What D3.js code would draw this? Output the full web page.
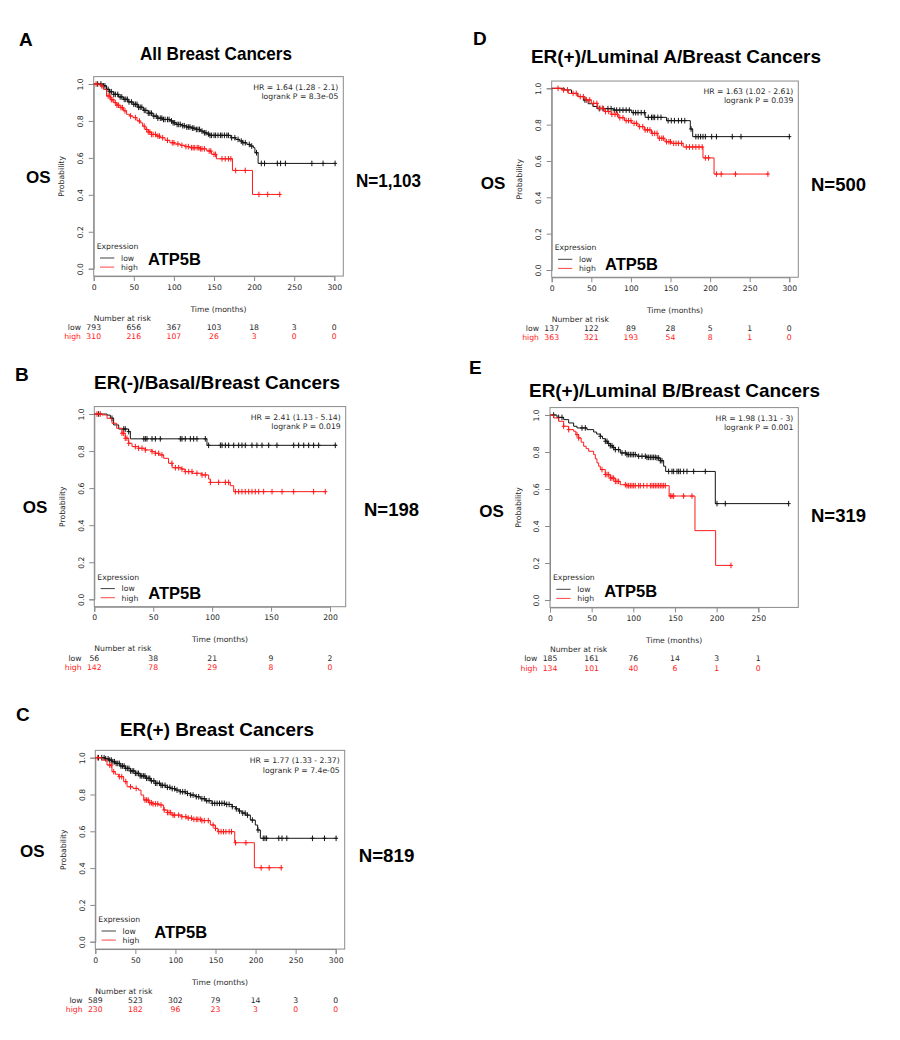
<!DOCTYPE html>
<html>
<head>
<meta charset="utf-8">
<script src="https://cdn.jsdelivr.net/npm/d3@7"></script>
<style>
  body { margin: 0; background: #fff; }
  svg text { font-family: "DejaVu Sans", sans-serif; }
  .big { font-family: "Liberation Sans", Arial, sans-serif; font-weight: bold; fill: #000; }
</style>
</head>
<body>
<svg id="fig" width="900" height="1040"></svg>
<script>
// ---- panel A: all breast cancers ----
const aTicks = [0, 50, 100, 150, 200, 250, 300];
const aRiskLow = [793, 656, 367, 103, 18, 3, 0];
const aRiskHigh = [310, 216, 107, 26, 3, 0, 0];
const aLowSteps = [[0,1],[12,0.99],[16,0.971],[20,0.958],[25,0.944],[31,0.93],[37,0.917],[43,0.903],[49,0.89],[55,0.874],[62,0.857],[68,0.842],[74,0.826],[80,0.815],[87,0.808],[95,0.80],[99,0.79],[103,0.781],[110,0.774],[116,0.767],[122,0.761],[128,0.754],[133,0.745],[137,0.736],[141,0.729],[145,0.722],[171,0.709],[177,0.70],[182,0.691],[186,0.682],[191,0.673],[195,0.664],[199,0.655],[201,0.628],[205,0.570]];
const aLowCensor = [5,9,12,14,16,18,20,22,25,27,30,33,35,38,40,42,44,47,50,52,54,56,58,60,63,65,68,70,72,75,78,80,83,85,87,89,92,94,97,99,101,104,106,108,111,113,116,118,120,123,125,128,130,132,135,138,140,143,145,147,150,152,155,158,160,163,166,168,172,176,180,184,186,189,194,197,203,209,213,229,233,239,272,286,301];
const aLowEnd = 302;
const aHighSteps = [[0,1],[8,0.99],[12,0.971],[16,0.935],[21,0.915],[25,0.899],[29,0.885],[33,0.872],[37,0.855],[41,0.836],[45,0.827],[49,0.818],[54,0.80],[58,0.79],[61,0.772],[64,0.754],[68,0.74],[72,0.727],[78,0.718],[83,0.709],[89,0.695],[95,0.682],[101,0.675],[108,0.668],[114,0.661],[120,0.655],[133,0.649],[141,0.637],[147,0.619],[153,0.595],[173,0.532],[198,0.402]];
const aHighCensor = [3,10,18,20,22,24,27,29,31,34,36,39,46,52,57,63,66,68,70,72,74,77,80,82,86,92,98,100,105,110,115,118,122,124,126,129,131,133,135,138,144,146,150,152,160,164,168,171,177,189,206,217,232];
const aHighEnd = 233;
const aStats = ['HR = 1.64 (1.28 - 2.1)', 'logrank P = 8.3e-05'];

// ---- panel B: ER(-)/basal ----
const bTicks = [0, 50, 100, 150, 200];
const bRiskLow = [56, 38, 21, 9, 2];
const bRiskHigh = [142, 78, 29, 8, 0];
const bLowSteps = [[0,1],[10.8,0.994],[13.6,0.977],[16.4,0.941],[20.7,0.919],[29,0.905],[30.6,0.866],[95.6,0.831]];
const bLowCensor = [3.7,15,25,26.3,29.2,42,43.3,44.7,49,51.8,56,73,74.4,77.2,81.5,84.3,87.1,94.2,97,107,108.4,111.2,114,118.3,122.5,125.3,128.1,133.8,138,142.3,148,155,169.2,173.4,177.7,181.9,186.1,190.4,204.5];
const bLowEnd = 206;
const bHighSteps = [[0,1],[6.5,0.995],[10.8,0.977],[15,0.95],[19,0.923],[23.5,0.896],[26.3,0.869],[29.2,0.842],[32,0.824],[37.6,0.815],[43.3,0.806],[49,0.797],[51.8,0.788],[54.7,0.779],[58.9,0.761],[63,0.734],[66,0.71],[74,0.703],[77,0.689],[83,0.68],[91.4,0.671],[97,0.649],[98.5,0.631],[115.4,0.613],[118.3,0.581]];
const bHighCensor = [2.3,5.1,23.5,24.9,26.3,27.7,29.2,34.8,37.6,40.5,43.3,49,51.8,54.6,57.4,65.9,68.8,71.6,74.4,77.2,80.1,82.9,87.1,91.4,94.2,98.5,105.5,111.2,114,119.7,122.5,125.3,128.1,131,133.8,136.6,139.5,143.7,150.8,159.3,169.2,186.1,196];
const bHighEnd = 197;
const bStats = ['HR = 2.41 (1.13 - 5.14)', 'logrank P = 0.019'];

// ---- panel C: ER(+) ----
const cTicks = [0, 50, 100, 150, 200, 250, 300];
const cRiskLow = [589, 523, 302, 79, 14, 3, 0];
const cRiskHigh = [230, 182, 96, 23, 3, 0, 0];
const cLowSteps = [[0,1],[12,0.994],[16.7,0.987],[21,0.978],[25,0.969],[31,0.955],[37.5,0.942],[44,0.928],[50,0.915],[56,0.901],[62.4,0.888],[69,0.874],[75,0.861],[81,0.85],[87.4,0.839],[94,0.832],[100,0.824],[106,0.815],[112.4,0.806],[119,0.797],[125,0.788],[131,0.777],[137.3,0.766],[145.6,0.752],[162,0.746],[170.6,0.734],[175,0.722],[179,0.71],[183,0.699],[187.2,0.688],[193.5,0.661],[199.7,0.634],[202.6,0.607],[206,0.562]];
const cLowCensor = [4,8,11,13,16,18,20,22,24,26,28,30,32,34,36,38,40,42,44,46,48,50,52,54,56,58,60,62,64,66,68,70,73,75,77,80,82,84,87,90,93,96,99,102,106,109,112,115,119,122,126,129,133,136,139,142,146,149,152,155,158,161,164,167,171,176,180,184,187,190,196,203,209.6,211.7,213.8,229,233,239,271,286,300.5];
const cLowEnd = 301.6;
const cHighSteps = [[0,1],[8.4,0.987],[14.6,0.96],[20.8,0.924],[25,0.91],[29.2,0.897],[35.4,0.87],[39.6,0.842],[47,0.833],[54,0.824],[57,0.797],[60.4,0.77],[66.6,0.755],[72,0.749],[79,0.743],[85.3,0.716],[90,0.702],[95.7,0.688],[108,0.679],[114,0.672],[120.7,0.665],[133,0.658],[143.6,0.634],[149.8,0.616],[153,0.598],[174,0.538],[198.5,0.402]];
const cHighCensor = [3,18,20,23,30,33,38,44,51,62,64,66,68,70,72,75,78,82,86,90,92,94,97,99,104,108,113,116,120,123,126,128,131,133,136,141,147,150,154,157,160,163,167,170,175,188,207,217,232];
const cHighEnd = 232;
const cStats = ['HR = 1.77 (1.33 - 2.37)', 'logrank P = 7.4e-05'];

// ---- panel D: ER(+)/luminal A ----
const dTicks = [0, 50, 100, 150, 200, 250, 300];
const dRiskLow = [137, 122, 89, 28, 5, 1, 0];
const dRiskHigh = [363, 321, 193, 54, 8, 1, 0];
const dLowSteps = [[0,1],[16,0.991],[25,0.972],[33,0.955],[40,0.935],[46,0.915],[52,0.9],[57,0.888],[78,0.88],[101,0.866],[118,0.84],[145,0.822],[175,0.776],[178,0.734]];
const dLowCensor = [42,60,65,71,75,79,82,86,90,94,98,103,106,109,113,117,122,126,128,130,134,138,147,151,155,160,164,168,176,182,185,188,191,194,202,208,228,239,300];
const dLowEnd = 301;
const dHighSteps = [[0,1],[12,0.991],[21,0.972],[33,0.954],[42,0.936],[50,0.917],[58,0.89],[67,0.872],[75,0.857],[84,0.838],[92,0.822],[101,0.807],[109,0.789],[117,0.771],[126,0.752],[134,0.725],[143,0.706],[151,0.697],[166,0.677],[191,0.617],[205,0.528]];
const dHighCensor = [8,15,20,27,31,36,40,44,48,53,57,61,64,68,72,76,80,83,86,90,94,97,100,104,107,111,115,118,121,124,127,130,133,136,139,141,145,148,150,154,157,160,164,170,174,178,182,186,190,194,198,208,214,232,273];
const dHighEnd = 273.5;
const dStats = ['HR = 1.63 (1.02 - 2.61)', 'logrank P = 0.039'];

// ---- panel E: ER(+)/luminal B ----
const eTicks = [0, 50, 100, 150, 200, 250];
const eRiskLow = [185, 161, 76, 14, 3, 1];
const eRiskHigh = [134, 101, 40, 6, 1, 0];
const eLowSteps = [[0,1],[8.4,0.987],[16.4,0.975],[22.4,0.957],[28.4,0.939],[32.4,0.93],[44.4,0.921],[52.4,0.908],[56,0.897],[60.4,0.885],[63,0.872],[66.4,0.858],[69,0.846],[72.4,0.834],[75,0.824],[78.4,0.813],[84.4,0.795],[92.4,0.786],[104.4,0.777],[116.4,0.771],[128.4,0.768],[132.4,0.753],[136.4,0.723],[138.8,0.695],[198.4,0.521]];
const eLowCensor = [4.4,10.4,14.4,38.4,42.4,60.4,66.4,68.4,70.4,72.4,74.4,76.4,78.4,82.4,86.4,90.4,92.4,94.4,96.4,98.4,100.4,102.4,106.4,110.4,114.4,116.4,118.4,120.4,122.4,124.4,126.4,128.4,130.4,132.4,134.4,142.4,146.4,148.4,152.4,154.4,156.4,160.4,164.4,172.4,186.4,200.4,210.4,286.4];
const eLowEnd = 287;
const eHighSteps = [[0,1],[4.4,0.984],[10.4,0.966],[16.4,0.939],[22.4,0.921],[28.4,0.912],[31,0.894],[34.4,0.876],[37.4,0.853],[40.4,0.831],[43.4,0.818],[46.4,0.804],[52.4,0.786],[54.4,0.763],[56.4,0.741],[58.4,0.723],[60.4,0.705],[66.4,0.678],[72.4,0.659],[78.4,0.641],[84.4,0.623],[92.4,0.618],[143,0.562],[174,0.375],[198.8,0.187]];
const eHighCensor = [16.4,22.4,32.4,34.4,62.4,66.4,68.4,70.4,72.4,74.4,76.4,78.4,80.4,82.4,90.4,92.4,94.4,96.4,98.4,100.4,102.4,106.4,108.4,112.4,116.4,120.4,122.4,124.4,126.4,128.4,130.4,132.4,134.4,136.4,138.4,144.4,146.4,148.4,160.4,170.4,217.2];
const eHighEnd = 217.5;
const eStats = ['HR = 1.98 (1.31 - 3)', 'logrank P = 0.001'];

const gene = 'ATP5B';
const lowColor = '#141414', highColor = '#ff1a1a', boxColor = '#8a8a8a', textColor = '#2a2a2a';

// layout of each panel on the page (pixels)
const panels = [
  { letter: 'A', title: 'All Breast Cancers', n: 'N=1,103', ticks: aTicks, riskLow: aRiskLow, riskHigh: aRiskHigh,
    low: { steps: aLowSteps, censor: aLowCensor, end: aLowEnd }, high: { steps: aHighSteps, censor: aHighCensor, end: aHighEnd }, stats: aStats,
    lx: 19, ly: 46, tx: 216, ty: 60, tw: 152, ox: 93.7, tickMaxX: 334.3, boxRight: 343.3, y1: 84, y0: 268.7,
    osX: 26, osY: 182.7, nX: 356, nY: 186.7, nW: 65, gx: 148, gy: 265 },
  { letter: 'B', title: 'ER(-)/Basal/Breast Cancers', n: 'N=198', ticks: bTicks, riskLow: bRiskLow, riskHigh: bRiskHigh,
    low: { steps: bLowSteps, censor: bLowCensor, end: bLowEnd }, high: { steps: bHighSteps, censor: bHighCensor, end: bHighEnd }, stats: bStats,
    lx: 15, ly: 380.5, tx: 217, ty: 389, tw: 246, ox: 94.3, tickMaxX: 330, boxRight: 345.7, y1: 414, y0: 599.3,
    osX: 22.7, osY: 513, nX: 364, nY: 515.7, nW: 55, gx: 148.3, gy: 599.3 },
  { letter: 'C', title: 'ER(+) Breast Cancers', n: 'N=819', ticks: cTicks, riskLow: cRiskLow, riskHigh: cRiskHigh,
    low: { steps: cLowSteps, censor: cLowCensor, end: cLowEnd }, high: { steps: cHighSteps, censor: cHighCensor, end: cHighEnd }, stats: cStats,
    lx: 16, ly: 721, tx: 217, ty: 736, tw: 194, ox: 95.3, tickMaxX: 335.7, boxRight: 344.7, y1: 757.7, y0: 941.7,
    osX: 20, osY: 856.7, nX: 358.7, nY: 861.7, nW: 55.6, gx: 154.3, gy: 938.3 },
  { letter: 'D', title: 'ER(+)/Luminal A/Breast Cancers', n: 'N=500', ticks: dTicks, riskLow: dRiskLow, riskHigh: dRiskHigh,
    low: { steps: dLowSteps, censor: dLowCensor, end: dLowEnd }, high: { steps: dHighSteps, censor: dHighCensor, end: dHighEnd }, stats: dStats,
    lx: 473, ly: 45, tx: 676, ty: 63.3, tw: 290, ox: 551.7, tickMaxX: 789.3, boxRight: 798.3, y1: 88.3, y0: 270,
    osX: 480.7, osY: 189, nX: 811, nY: 190.7, nW: 55, gx: 605, gy: 270 },
  { letter: 'E', title: 'ER(+)/Luminal B/Breast Cancers', n: 'N=319', ticks: eTicks, riskLow: eRiskLow, riskHigh: eRiskHigh,
    low: { steps: eLowSteps, censor: eLowCensor, end: eLowEnd }, high: { steps: eHighSteps, censor: eHighCensor, end: eHighEnd }, stats: eStats,
    lx: 469, ly: 374, tx: 674.5, ty: 397, tw: 291, ox: 550, tickMaxX: 758.3, boxRight: 798.3, y1: 415, y0: 600,
    osX: 479.3, osY: 516.7, nX: 811, nY: 522.3, nW: 55, gx: 604.3, gy: 597.3 }
];

const svg = d3.select('#fig');

// value of the step curve at time t
function survAt(steps, t) {
  let s = 1;
  for (const [ti, si] of steps) {
    if (ti <= t) s = si; else break;
  }
  return s;
}

function drawPanel(p) {
  const g = svg.append('g');
  const tickMax = p.ticks[p.ticks.length - 1];
  const x = d3.scaleLinear().domain([0, tickMax]).range([p.ox, p.tickMaxX]);
  const y = d3.scaleLinear().domain([0, 1]).range([p.y0, p.y1]);
  const boxTop = y(1.04), boxBottom = y(-0.04);

  // big labels
  g.append('text').attr('class', 'big').attr('x', p.lx).attr('y', p.ly).style('font-size', '19px').text(p.letter);
  g.append('text').attr('class', 'big').attr('x', p.tx).attr('y', p.ty).attr('text-anchor', 'middle')
    .attr('textLength', p.tw).attr('lengthAdjust', 'spacingAndGlyphs').style('font-size', '19px').text(p.title);
  g.append('text').attr('class', 'big').attr('x', p.osX).attr('y', p.osY).style('font-size', '17px').text('OS');
  g.append('text').attr('class', 'big').attr('x', p.nX).attr('y', p.nY)
    .attr('textLength', p.nW).attr('lengthAdjust', 'spacingAndGlyphs').style('font-size', '18.5px').text(p.n);

  // plot box
  g.append('rect').attr('x', p.ox).attr('y', boxTop).attr('width', p.boxRight - p.ox).attr('height', boxBottom - boxTop)
    .attr('fill', 'none').attr('stroke', boxColor).attr('stroke-width', 1);

  // x axis
  const xAxis = g.append('g').attr('transform', `translate(0,${boxBottom})`)
    .call(d3.axisBottom(x).tickValues(p.ticks).tickSize(5).tickPadding(3).tickFormat(d3.format('d')));
  xAxis.select('.domain').attr('stroke', boxColor);
  xAxis.selectAll('line').attr('stroke', boxColor);
  xAxis.selectAll('text').attr('fill', textColor).style('font-size', '7.7px').style('font-family', '"DejaVu Sans", sans-serif');

  // y axis (labels rotated like R)
  const yAxis = g.append('g').attr('transform', `translate(${p.ox},0)`)
    .call(d3.axisLeft(y).tickValues([0, 0.2, 0.4, 0.6, 0.8, 1.0]).tickSize(5).tickFormat(d3.format('.1f')));
  yAxis.select('.domain').attr('stroke', boxColor);
  yAxis.selectAll('line').attr('stroke', boxColor);
  yAxis.selectAll('text').attr('fill', textColor).style('font-size', '7.7px').style('font-family', '"DejaVu Sans", sans-serif')
    .attr('x', null).attr('dy', null).attr('text-anchor', 'middle')
    .attr('transform', 'translate(-10.7,0) rotate(-90)');

  g.append('text').attr('transform', `translate(${p.ox - 29.5},${(p.y0 + p.y1) / 2}) rotate(-90)`)
    .attr('text-anchor', 'middle').attr('fill', textColor).style('font-size', '7.7px').text('Probability');
  g.append('text').attr('x', (p.ox + p.boxRight) / 2).attr('y', boxBottom + 35.6).attr('text-anchor', 'middle')
    .attr('fill', textColor).style('font-size', '7.7px').text('Time (months)');

  // stats
  g.append('text').attr('x', p.boxRight - 5).attr('y', p.y1 + 5.5).attr('text-anchor', 'end')
    .attr('fill', textColor).style('font-size', '7.7px').text(p.stats[0]);
  g.append('text').attr('x', p.boxRight - 5).attr('y', p.y1 + 14.8).attr('text-anchor', 'end')
    .attr('fill', textColor).style('font-size', '7.7px').text(p.stats[1]);

  // curves
  const line = d3.line().x((d) => x(d[0])).y((d) => y(d[1])).curve(d3.curveStepAfter);
  [['low', lowColor], ['high', highColor]].forEach(([key, col]) => {
    const c = p[key];
    const pts = c.steps.concat([[c.end, c.steps[c.steps.length - 1][1]]]);
    g.append('path').datum(pts).attr('d', line).attr('fill', 'none').attr('stroke', col).attr('stroke-width', 1);
    const marks = g.append('g').attr('stroke', col).attr('stroke-width', 1);
    marks.selectAll('path').data(c.censor).join('path')
      .attr('d', (t) => {
        const cx = x(t), cy = y(survAt(c.steps, t));
        return `M${cx},${cy - 2.8}V${cy + 2.8}M${cx - 2},${cy}H${cx + 2}`;
      });
  });

  // legend
  g.append('text').attr('x', p.ox + 3).attr('y', p.y0 - 19.8).attr('fill', textColor).style('font-size', '7.7px').text('Expression');
  [['low', lowColor, p.y0 - 10.7], ['high', highColor, p.y0 - 1.6]].forEach(([lab, col, ly]) => {
    g.append('line').attr('x1', p.ox + 6.3).attr('x2', p.ox + 20.6).attr('y1', ly).attr('y2', ly)
      .attr('stroke', col).attr('stroke-width', 1).attr('opacity', 0.8);
    g.append('text').attr('x', p.ox + 27.3).attr('y', ly + 2.8).attr('fill', textColor).style('font-size', '7.7px').text(lab);
  });
  g.append('text').attr('class', 'big').attr('x', p.gx).attr('y', p.gy).style('font-size', '16.5px').text(gene);

  // number at risk table
  g.append('text').attr('x', p.ox).attr('y', boxBottom + 44.6).attr('fill', textColor).style('font-size', '7.7px').text('Number at risk');
  [['low', p.riskLow, textColor, 53.8], ['high', p.riskHigh, highColor, 63.1]].forEach(([lab, vals, col, dy]) => {
    g.append('text').attr('x', p.ox - 12.7).attr('y', boxBottom + dy).attr('text-anchor', 'end')
      .attr('fill', col).style('font-size', '7.7px').text(lab);
    g.append('g').selectAll('text').data(vals).join('text')
      .attr('x', (d, i) => x(p.ticks[i])).attr('y', boxBottom + dy).attr('text-anchor', 'middle')
      .attr('fill', col).style('font-size', '7.7px').text((d) => d);
  });
}

panels.forEach(drawPanel);
</script>
</body>
</html>
